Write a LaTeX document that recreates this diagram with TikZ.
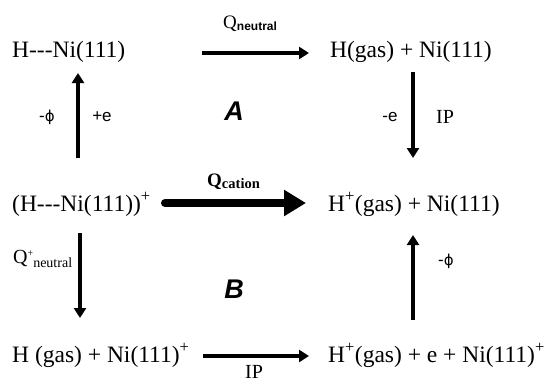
\documentclass[tikz,border=0pt]{standalone}
\usepackage{fontspec}
\setmainfont{Liberation Serif}
\newfontfamily\arial{Liberation Sans}
\newfontfamily\dejavu{DejaVu Sans}
\usetikzlibrary{arrows.meta}
\tikzset{
  chem/.style={anchor=base west, inner sep=0pt, font=\fontsize{23.5}{27}\selectfont},
  lab/.style={inner sep=0pt, font=\arial\fontsize{17}{20}\selectfont},
  big/.style={inner sep=0pt, font=\arial\bfseries\itshape\fontsize{27}{30}\selectfont},
  ip/.style={inner sep=0pt, font=\fontsize{20}{24}\selectfont},
  thin/.style={line width=3.2pt, -{Triangle[length=10pt,width=12pt]}},
  thick/.style={line width=8pt, line cap=round, -{Triangle[length=22pt,width=25pt]}}
}
\newcommand{\myphi}{{\dejavu\fontsize{15}{18}\selectfont ϕ}}
\begin{document}
\begin{tikzpicture}[x=1pt,y=-1pt]
\useasboundingbox (0,0) rectangle (553,383);
% species
\node[chem] (tl) at (12,57) {H-{}-{}-Ni(111)};
\node[chem] (tr) at (330,57) {H(gas) + Ni(111)};
\node[chem] (ml) at (12,211) {(H-{}-{}-Ni(111))\textsuperscript{+}};
\node[chem] (mr) at (328,211) {H\textsuperscript{+}(gas) + Ni(111)};
\node[chem] (bl) at (12,362) {H (gas) + Ni(111)\textsuperscript{+}};
\node[chem] (br) at (328,362) {H\textsuperscript{+}(gas) + e + Ni(111)\textsuperscript{+}};
% arrow ends
\coordinate (a1s) at (202,53);  \coordinate (a1e) at (309,53);
\coordinate (a2s) at (78,158);  \coordinate (a2e) at (78,73);
\coordinate (a3s) at (413,72);  \coordinate (a3e) at (413,158);
\coordinate (a4s) at (165,203); \coordinate (a4e) at (306,203);
\coordinate (a5s) at (80,233);  \coordinate (a5e) at (80,318);
\coordinate (a6s) at (413,320); \coordinate (a6e) at (413,235);
\coordinate (a7s) at (203,356); \coordinate (a7e) at (309,356);
\draw[thin] (a1s) -- (a1e);
\draw[thin] (a2s) -- (a2e);
\draw[thin] (a3s) -- (a3e);
\draw[thick] (a4s) -- (a4e);
\draw[thin] (a5s) -- (a5e);
\draw[thin] (a6s) -- (a6e);
\draw[thin] (a7s) -- (a7e);
% labels
\node[anchor=base west, inner sep=0pt, font=\fontsize{19}{22}\selectfont] (qn) at (223,28)
  {Q\raisebox{-2pt}{\arial\bfseries\fontsize{12}{14}\selectfont neutral}};
\node[anchor=base west, inner sep=0pt, font=\bfseries\fontsize{19}{22}\selectfont] (qc) at (207,186)
  {Q\raisebox{-2pt}{\fontsize{14.5}{17}\selectfont cation}};
\node[anchor=base west, inner sep=0pt, font=\fontsize{20}{24}\selectfont] (qpn) at (13,263)
  {Q\raisebox{7pt}{\fontsize{10}{12}\selectfont +}\raisebox{-4pt}{\fontsize{14}{16}\selectfont neutral}};
\node[lab] (l1) at (47,117) {-\myphi};
\node[lab] (l2) at (102,117) {+e};
\node[big] (A) at (234,111) {A};
\node[lab] (l3) at (390,117) {-e};
\node[ip] (l4) at (445,117) {IP};
\node[big] (B) at (234,289) {B};
\node[lab] (l5) at (446,261) {-\myphi};
\node[ip, anchor=base] (l6) at (254,378) {IP};
\end{tikzpicture}
\end{document}
